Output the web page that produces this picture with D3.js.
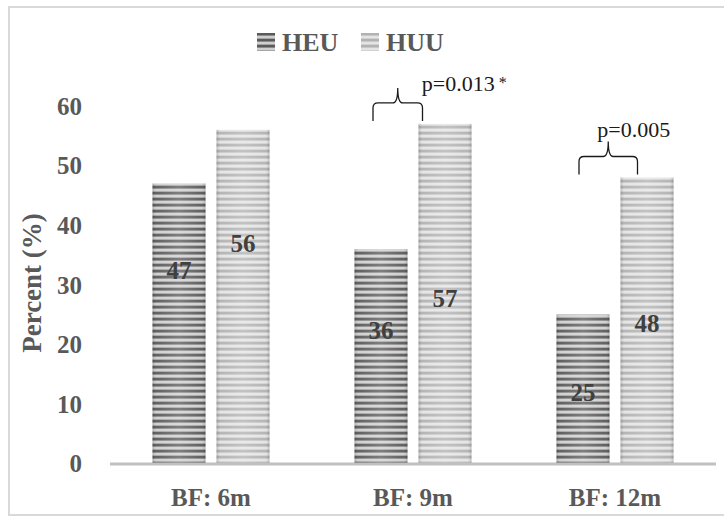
<!DOCTYPE html>
<html>
<head>
<meta charset="utf-8">
<script src="https://cdn.jsdelivr.net/npm/d3@7"></script>
<style>
  body { margin: 0; background: #fff; }
  svg { display: block; }
</style>
</head>
<body>
<svg id="chart" width="724" height="516"></svg>
<script>
const categories = ['BF: 6m', 'BF: 9m', 'BF: 12m']
const groups = ['HEU', 'HUU']
const heu = [47, 36, 25]
const huu = [56, 57, 48]
const yTicks = [0, 10, 20, 30, 40, 50, 60]
// where the data labels sit inside the bars (value units)
const heuLabelAt = [32.5, 22.4, 12]
const huuLabelAt = [37, 27.8, 23.6]
const pLabels = ['p=0.013', 'p=0.005']
const pStars = ['*', '']
const pCats = ['BF: 9m', 'BF: 12m']

const W = 724, H = 516
const svg = d3.select('#chart')
const font = '"Liberation Serif", "DejaVu Serif", serif'
const grey = '#595959'

const x = d3.scaleBand().domain(categories).range([110, 716])
const xSub = d3.scaleBand().domain(groups).range([0, x.bandwidth()])
  .paddingInner(0.172).paddingOuter(0.664)
const y = d3.scaleLinear().domain([0, 60]).range([463.5, 106])

// stripe textures
const defs = svg.append('defs')
function stripes(id, rows) {
  const total = d3.sum(rows, r => r[1])
  const p = defs.append('pattern').attr('id', id)
    .attr('patternUnits', 'userSpaceOnUse').attr('width', 10).attr('height', total)
  let acc = 0
  rows.forEach(r => {
    p.append('rect').attr('x', 0).attr('y', acc).attr('width', 10).attr('height', r[1]).attr('fill', r[0])
    acc += r[1]
  })
}
stripes('heuPat', [['#5a5a5a', 2], ['#8c8c8c', 1], ['#cfcfcf', 2], ['#a5a5a5', 1]])
stripes('huuPat', [['#b2b2b2', 2], ['#c8c8c8', 1], ['#e4e4e4', 2], ['#d2d2d2', 1]])

const shade = defs.append('linearGradient').attr('id', 'shade')
  .attr('x1', 0).attr('x2', 1).attr('y1', 0).attr('y2', 0)
;[[0, '#000', 0.18], [0.08, '#fff', 0.05], [0.5, '#fff', 0.22], [0.92, '#fff', 0.05], [1, '#000', 0.18]]
  .forEach(s => shade.append('stop').attr('offset', s[0]).attr('stop-color', s[1]).attr('stop-opacity', s[2]))

// outer frame
svg.append('path')
  .attr('d', `M${W + 2},7 H9 V515 H${W + 2}`)
  .attr('fill', 'none').attr('stroke', '#d9d9d9').attr('stroke-width', 2)

// bars
const rows = categories.map((c, i) => [
  { cat: c, grp: 'HEU', v: heu[i], at: heuLabelAt[i], pat: 'heuPat' },
  { cat: c, grp: 'HUU', v: huu[i], at: huuLabelAt[i], pat: 'huuPat' }
]).flat()

const bars = svg.append('g').selectAll('g').data(rows).enter().append('g')
bars.append('rect')
  .attr('x', d => x(d.cat) + xSub(d.grp)).attr('width', xSub.bandwidth())
  .attr('y', d => y(d.v)).attr('height', d => y(0) - y(d.v))
  .attr('fill', d => `url(#${d.pat})`)
bars.append('rect')
  .attr('x', d => x(d.cat) + xSub(d.grp)).attr('width', xSub.bandwidth())
  .attr('y', d => y(d.v)).attr('height', d => y(0) - y(d.v))
  .attr('fill', 'url(#shade)')
bars.append('text')
  .attr('x', d => x(d.cat) + xSub(d.grp) + xSub.bandwidth() / 2)
  .attr('y', d => y(d.at))
  .attr('dy', '0.35em')
  .attr('text-anchor', 'middle')
  .style('font-family', font).style('font-weight', 'bold').style('font-size', '25px')
  .attr('fill', '#404040')
  .text(d => d.v)

// category axis line
svg.append('line')
  .attr('x1', x.range()[0]).attr('x2', x.range()[1])
  .attr('y1', y(0) + 0.5).attr('y2', y(0) + 0.5)
  .attr('stroke', '#c0c0c0').attr('stroke-width', 3)

// y tick labels
svg.append('g').selectAll('text').data(yTicks).enter().append('text')
  .attr('x', 82).attr('y', d => y(d)).attr('dy', '0.35em')
  .attr('text-anchor', 'end')
  .style('font-family', font).style('font-weight', 'bold').style('font-size', '25px')
  .attr('fill', grey)
  .text(d => d)

// x labels
svg.append('g').selectAll('text').data(categories).enter().append('text')
  .attr('x', d => x(d) + x.bandwidth() / 2).attr('y', 506)
  .attr('text-anchor', 'middle')
  .style('font-family', font).style('font-weight', 'bold').style('font-size', '25px')
  .attr('fill', grey)
  .text(d => d)

// y title
svg.append('text')
  .attr('transform', 'translate(41,283) rotate(-90)')
  .attr('text-anchor', 'middle')
  .style('font-family', font).style('font-weight', 'bold').style('font-size', '27px')
  .attr('fill', grey)
  .text('Percent (%)')

// legend
const legend = svg.append('g').selectAll('g').data(groups).enter().append('g')
  .attr('transform', (d, i) => `translate(${257 + i * 104},33)`)
legend.append('rect').attr('width', 18).attr('height', 18)
  .attr('fill', (d, i) => i ? 'url(#huuPat)' : 'url(#heuPat)')
legend.append('text').attr('x', 25).attr('y', 18)
  .style('font-family', font).style('font-weight', 'bold').style('font-size', '26px')
  .attr('fill', grey)
  .text(d => d)

// significance braces
const braceBox = [
  { x1: -8, x2: 4, tx: 24, ty: 3 },
  { x1: -4, x2: 17, tx: -11, ty: -5 }
]
pCats.forEach((c, i) => {
  const k = categories.indexOf(c)
  const b = braceBox[i]
  const x1 = x(c) + xSub('HEU') + xSub.bandwidth() / 2 + b.x1
  const x2 = x(c) + xSub('HUU') + b.x2
  const xm = (x1 + x2) / 2
  const yb = y(huu[k]) - 3
  const yt = yb - 18
  const yp = yt - 15
  const r = 5
  svg.append('path')
    .attr('d', `M${x1},${yb} V${yt + r} Q${x1},${yt} ${x1 + r},${yt} H${xm - r} Q${xm},${yt} ${xm},${yp}` +
      ` Q${xm},${yt} ${xm + r},${yt} H${x2 - r} Q${x2},${yt} ${x2},${yt + r} V${yb}`)
    .attr('fill', 'none').attr('stroke', '#1a1a1a').attr('stroke-width', 1.3)
  const t = svg.append('text')
    .attr('x', xm + b.tx).attr('y', yp + b.ty)
    .style('font-family', font).style('font-size', '22px')
    .attr('fill', '#1a1a1a')
    .text(pLabels[i])
  if (pStars[i]) {
    t.append('tspan').attr('dx', 4).attr('dy', -3).style('font-size', '16px').text(pStars[i])
  }
})
</script>
</body>
</html>
